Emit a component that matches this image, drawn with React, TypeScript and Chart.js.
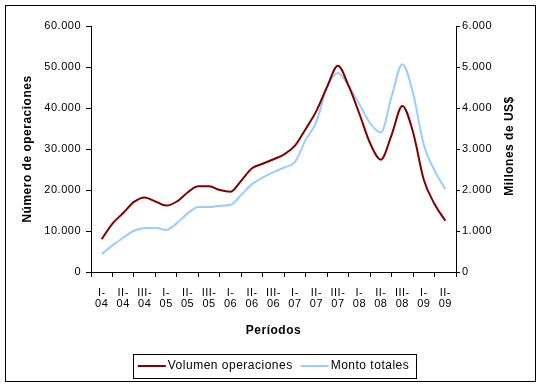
import React, { useEffect, useRef } from 'react';
import { Chart, registerables } from 'chart.js';

Chart.register(...registerables);

// Period labels (cuatrimestres)
const periodLabels: string[][] = [
  ['I-', '04'], ['II-', '04'], ['III-', '04'],
  ['I-', '05'], ['II-', '05'], ['III-', '05'],
  ['I-', '06'], ['II-', '06'], ['III-', '06'],
  ['I-', '07'], ['II-', '07'], ['III-', '07'],
  ['I-', '08'], ['II-', '08'], ['III-', '08'],
  ['I-', '09'], ['II-', '09'],
];

// Values sampled every half period, starting at the middle of the first period
const volumenOperaciones = [
  8000, 11800, 14400, 17100, 18200, 17200, 16200, 17200, 19400, 20900, 20900,
  20000, 19600, 22300, 25300, 26400, 27500, 28700, 30800, 34900, 39300, 45200,
  50300, 45400, 38600, 31400, 27400, 33400, 40500, 34100, 22500, 16600, 12500,
];
const montoTotales = [
  438, 649, 836, 1006, 1071, 1080, 1023, 1193, 1429, 1583, 1583,
  1615, 1640, 1883, 2143, 2305, 2435, 2549, 2687, 3222, 3669, 4521,
  4854, 4537, 4091, 3628, 3401, 4278, 5070, 4359, 3101, 2476, 2021,
];

const leftTicksMax = 60000;
const leftStep = 10000;
const rightTicksMax = 6000;
const rightStep = 1000;

const seriesNames = ['Volumen operaciones', 'Monto totales'];
const seriesColors = ['#800000', '#99CCFF'];

const FONT = '"Liberation Sans", Arial, sans-serif';

const fmt = (v: number) => String(v).replace(/\B(?=(\d{3})+(?!\d))/g, '.');
const samplePos = (i: number) => 0.5 + i * 0.5;

const spacingPlugin = {
  id: 'spacing',
  beforeLayout(chart: any) {
    chart.ctx.letterSpacing = '0.5px';
  },
  beforeDraw(chart: any) {
    chart.ctx.letterSpacing = '0.5px';
  },
};

const decorPlugin = {
  id: 'decor',
  afterDraw(chart: any) {
    const ctx: CanvasRenderingContext2D = chart.ctx;
    const a = chart.chartArea;
    ctx.save();
    (ctx as any).letterSpacing = '0.5px';
    ctx.strokeStyle = '#000';
    ctx.lineWidth = 1;
    ctx.strokeRect(5.5, 5.5, 530, 376);

    ctx.fillStyle = '#000';
    ctx.textAlign = 'center';
    ctx.textBaseline = 'middle';
    ctx.font = `bold 12px ${FONT}`;
    const cx = (a.left + a.right) / 2;
    const cy = (a.top + a.bottom) / 2;
    ctx.fillText('Períodos', cx, 331);

    ctx.save();
    ctx.translate(28, cy);
    ctx.rotate(-Math.PI / 2);
    ctx.fillText('Número de operaciones', 0, 0);
    ctx.restore();

    ctx.save();
    ctx.translate(510, cy - 3);
    ctx.rotate(-Math.PI / 2);
    ctx.fillText('Millones de US$', 0, 0);
    ctx.restore();

    // legend
    ctx.font = `12px ${FONT}`;
    const w1 = ctx.measureText(seriesNames[0]).width;
    const w2 = ctx.measureText(seriesNames[1]).width;
    const lineLen = 28;
    const total = lineLen + 2 + w1 + 8 + lineLen + 2 + w2;
    const start = cx - total / 2;
    const ly = 366;
    const boxL = Math.round(start - 5) + 0.5;
    const boxR = Math.round(start + total + 7) + 0.5;
    ctx.strokeRect(boxL, 354.5, boxR - boxL, 24);
    ctx.textAlign = 'left';
    let x = start;
    ctx.fillStyle = seriesColors[0];
    ctx.fillRect(x, ly - 1, lineLen, 2);
    x += lineLen + 2;
    ctx.fillStyle = '#000';
    ctx.fillText(seriesNames[0], x, ly);
    x += w1 + 8;
    ctx.fillStyle = seriesColors[1];
    ctx.fillRect(x, ly - 1, lineLen, 2);
    x += lineLen + 2;
    ctx.fillStyle = '#000';
    ctx.fillText(seriesNames[1], x, ly);
    ctx.restore();
  },
};

export default function App() {
  const ref = useRef<HTMLCanvasElement>(null);
  useEffect(() => {
    const canvas = ref.current!;
    const tickFont = { family: FONT, size: 11 };
    const chart = new Chart(canvas, {
      type: 'line',
      data: {
        datasets: [
          {
            label: seriesNames[0],
            data: volumenOperaciones.map((v, i) => ({ x: samplePos(i), y: v })),
            borderColor: seriesColors[0],
            backgroundColor: seriesColors[0],
            borderWidth: 2,
            pointRadius: 0,
            cubicInterpolationMode: 'monotone',
            xAxisID: 'x',
            yAxisID: 'y',
          },
          {
            label: seriesNames[1],
            data: montoTotales.map((v, i) => ({ x: samplePos(i), y: v })),
            borderColor: seriesColors[1],
            backgroundColor: seriesColors[1],
            borderWidth: 2,
            pointRadius: 0,
            cubicInterpolationMode: 'monotone',
            xAxisID: 'x',
            yAxisID: 'y2',
          },
        ],
      },
      options: {
        responsive: false,
        animation: false,
        devicePixelRatio: 1,
        layout: { padding: { top: 26, left: 0, right: 0, bottom: 0 } },
        plugins: {
          legend: { display: false },
          tooltip: { enabled: false },
        },
        scales: {
          x: { type: 'linear', min: 0, max: periodLabels.length, display: false },
          xcat: {
            type: 'category',
            labels: periodLabels as any,
            position: 'bottom',
            offset: true,
            grid: { offset: true, drawOnChartArea: false, drawTicks: true, tickLength: 5, color: '#000', lineWidth: 1 },
            border: { display: true, color: '#000', width: 1 },
            ticks: { color: '#000', font: { ...tickFont, lineHeight: 1.02 }, padding: 10, maxRotation: 0, autoSkip: false },
            afterFit: (s: any) => { s.height = 115; },
          },
          y: {
            position: 'left',
            min: 0,
            max: leftTicksMax,
            ticks: { stepSize: leftStep, color: '#000', font: tickFont, padding: 5, callback: (v: any) => fmt(v) },
            grid: { drawOnChartArea: false, tickLength: 5, color: '#000' },
            border: { display: true, color: '#000', width: 1 },
            afterFit: (s: any) => { s.width = 91; },
          },
          y2: {
            position: 'right',
            min: 0,
            max: rightTicksMax,
            ticks: { stepSize: rightStep, color: '#000', font: tickFont, padding: 2, callback: (v: any) => fmt(v) },
            grid: { drawOnChartArea: false, tickLength: 4, color: '#000' },
            border: { display: true, color: '#000', width: 1 },
            afterFit: (s: any) => { s.width = 84; },
          },
        },
      } as any,
      plugins: [spacingPlugin, decorPlugin],
    });
    return () => chart.destroy();
  }, []);
  return (
    <div style={{ position: 'fixed', left: 0, top: 0, width: 540, height: 387, background: '#fff' }}>
      <canvas ref={ref} width={540} height={387} style={{ display: 'block', width: 540, height: 387 }} />
    </div>
  );
}
